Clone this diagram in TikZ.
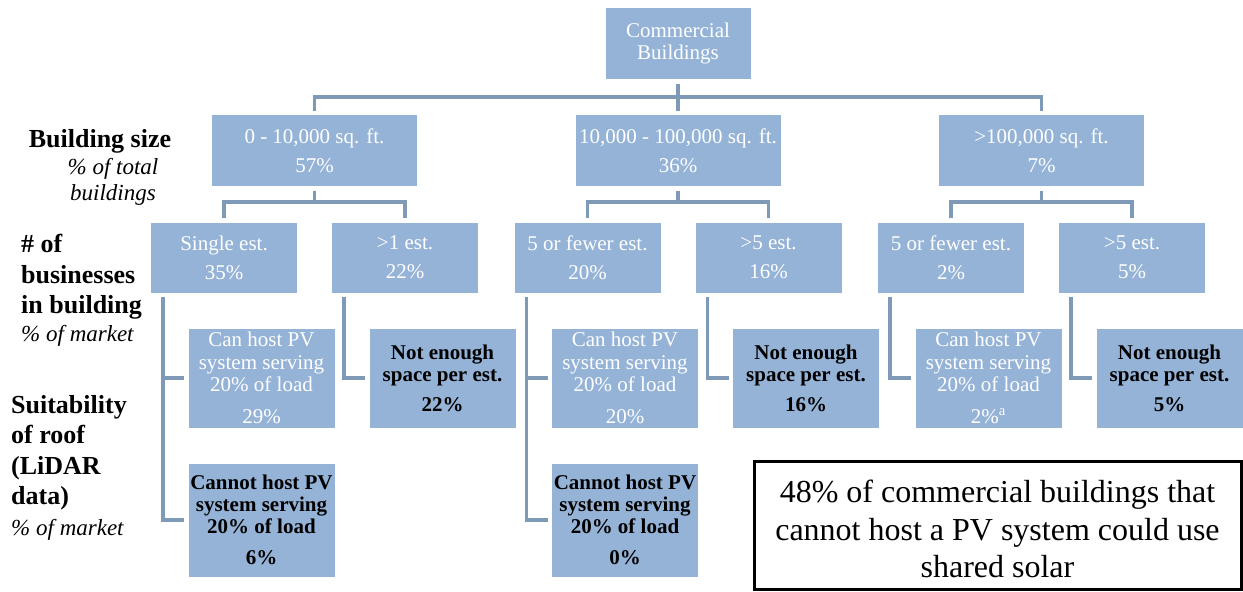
\documentclass[tikz,border=0pt]{standalone}
\usepackage{fontspec}
\setmainfont{Liberation Serif}
\usetikzlibrary{trees}
\definecolor{boxblue}{HTML}{95B3D7}
\definecolor{linkblue}{HTML}{7E9AB7}
\newcommand{\sharefont}{\fontsize{23}{26}\selectfont\mdseries\itshape}
\tikzset{
  box/.style={rectangle, fill=boxblue, text=white, align=center, inner sep=0pt,
    outer sep=4.5pt, minimum width=146pt, minimum height=70pt,
    font=\fontsize{21}{22.5}\selectfont},
  sizebox/.style={box, minimum width=205pt, minimum height=71pt},
  canbox/.style={box, minimum height=99pt},
  nobox/.style={box, text=black, minimum height=99pt, font=\fontsize{21}{22}\selectfont\bfseries},
  cannotbox/.style={nobox, minimum height=113pt},
  sidelabel/.style={align=left, inner sep=0pt, font=\fontsize{26}{30.5}\selectfont\bfseries}
}
\begin{document}
\begin{tikzpicture}[
  edge from parent/.style={draw=linkblue, line width=3.5pt},
  level distance=107pt,
  level 1/.style={sibling distance=363.5pt,
    edge from parent path={(\tikzparentnode.south) -- ++(0,-13.5pt) -| (\tikzchildnode.north)}},
  level 2/.style={sibling distance=181pt,
    edge from parent path={(\tikzparentnode.south) -- ++(0,-11.5pt) -| (\tikzchildnode.north)}},
  level 3/.style={grow via three points={one child at (37.5pt,-120.5pt) and two children at (37.5pt,-120.5pt) and (37.5pt,-262.5pt)},
    edge from parent path={(\tikzparentnode.south west) ++(16.5pt,0) |- (\tikzchildnode.west)}}]
\useasboundingbox (0,0) rectangle (1243pt,-592pt);

% tree
\node [box, minimum width=145pt, minimum height=71pt] (cb) at (678pt,-43.5pt) {Commercial\\Buildings}
  child {node [sizebox] (sa) {0 - 10,000 sq. ft.\\[7pt]57\%}
    child {node [box] (saa) {Single est.\\[6.5pt]35\%}
      child {node [canbox] (saaa) {Can host PV\\system serving\\20\% of load\\[9pt]29\%}}
      child {node [cannotbox] (saab) {Cannot host PV\\system serving\\20\% of load\\[9pt]6\%}}
    }
    child {node [box] (sab) {>1 est.\\[6.5pt]22\%}
      child {node [nobox] (saba) {Not enough\\space per est.\\[8pt]22\%}}
    }
  }
  child {node [sizebox] (sb) {10,000 - 100,000 sq. ft.\\[7pt]36\%}
    child {node [box] (sba) {5 or fewer est.\\[6.5pt]20\%}
      child {node [canbox] (sbaa) {Can host PV\\system serving\\20\% of load\\[9pt]20\%}}
      child {node [cannotbox] (sbab) {Cannot host PV\\system serving\\20\% of load\\[9pt]0\%}}
    }
    child {node [box] (sbb) {>5 est.\\[6.5pt]16\%}
      child {node [nobox] (sbba) {Not enough\\space per est.\\[8pt]16\%}}
    }
  }
  child {node [sizebox] (sc) {>100,000 sq. ft.\\[7pt]7\%}
    child {node [box] (sca) {5 or fewer est.\\[6.5pt]2\%}
      child {node [canbox] (scaa) {Can host PV\\system serving\\20\% of load\\[9pt]2\%\textsuperscript{a}}}
    }
    child {node [box] (scb) {>5 est.\\[6.5pt]5\%}
      child {node [nobox] (scba) {Not enough\\space per est.\\[8pt]5\%}}
    }
  };

% row labels
\node [sidelabel] (sizelabel) at (100pt,-141pt) {Building size};
\node [align=center, inner sep=0pt, font=\sharefont] (sizeshare) at (113pt,-182pt) {\% of total\\buildings};
\node [sidelabel, anchor=north west] (bizlabel) at (21pt,-234pt) {\# of\\businesses\\in building\\[-3pt]{\sharefont \% of market}};
\node [sidelabel, anchor=north west] (rooflabel) at (11pt,-395pt) {Suitability\\of roof\\(LiDAR\\data)\\{\sharefont \% of market}};

% note
\node [draw=black, line width=3pt, minimum width=487pt, minimum height=128pt, align=center,
  inner sep=0pt, font=\fontsize{32}{37.5}\selectfont] (note) at (997.5pt,-525.5pt) {};
\node [align=center, inner sep=0pt, font=\fontsize{32}{37.5}\selectfont] (notetext) at (997.5pt,-529pt)
  {48\% of commercial buildings that\\cannot host a PV system could use\\shared solar};
\end{tikzpicture}
\end{document}
